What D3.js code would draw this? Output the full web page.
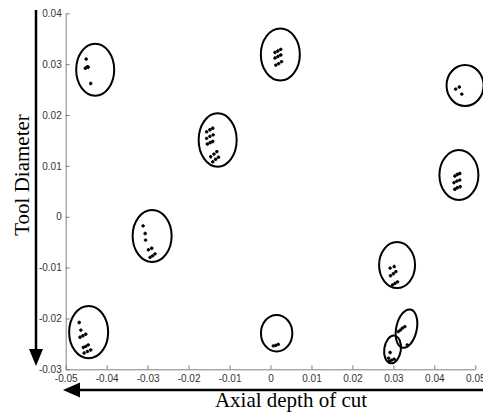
<!DOCTYPE html>
<html>
<head>
<meta charset="utf-8">
<script src="https://cdn.jsdelivr.net/npm/d3@7/dist/d3.min.js"></script>
<style>
  body { margin: 0; background: #fff; }
  .axis text { font-family: "Liberation Sans", Arial, sans-serif; font-size: 10px; fill: #333; }
  .axis path, .axis line { stroke: #808080; }
  .label { font-family: "Liberation Serif", "Times New Roman", serif; font-size: 21px; fill: #000; }
</style>
</head>
<body>
<div class="chart"></div>
<script>
// tick values
var xTicks = [-0.05, -0.04, -0.03, -0.02, -0.01, 0, 0.01, 0.02, 0.03, 0.04, 0.05];
var yTicks = [-0.03, -0.02, -0.01, 0, 0.01, 0.02, 0.03, 0.04];

// ellipse around each group: centre, half-width, half-height (data units), tilt (deg)
var ellipseCx = [-0.0428, 0.0024, 0.0475, -0.0129, 0.0460, -0.0289, 0.0309, -0.0444, 0.0015, 0.0332, 0.0298];
var ellipseCy = [0.0289, 0.0319, 0.0258, 0.0151, 0.0082, -0.0038, -0.0095, -0.0227, -0.0229, -0.0220, -0.0261];
var ellipseRx = [0.00464, 0.00476, 0.00452, 0.00464, 0.00476, 0.00476, 0.00439, 0.00476, 0.00383, 0.00251, 0.00203];
var ellipseRy = [0.00511, 0.00511, 0.00403, 0.00525, 0.00492, 0.00511, 0.00452, 0.00515, 0.00360, 0.00383, 0.00275];
var ellipseTilt = [0, 0, 0, 0, 0, 0, 0, 0, 0, 12, 8];

// measured points of each group [x, y]
var groupPoints = [
  [[-0.0450, 0.0310], [-0.0447, 0.0295], [-0.0452, 0.0292], [-0.0445, 0.0294], [-0.0439, 0.0262]],
  [[0.0011, 0.0323], [0.0018, 0.0326], [0.0025, 0.0329], [0.0011, 0.0312], [0.0018, 0.0315], [0.0025, 0.0318],
   [0.0013, 0.0298], [0.0020, 0.0301], [0.0027, 0.0305]],
  [[0.0452, 0.0251], [0.0461, 0.0255], [0.0467, 0.0241]],
  [[-0.0156, 0.0167], [-0.0148, 0.0171], [-0.0141, 0.0174], [-0.0156, 0.0154], [-0.0148, 0.0158], [-0.0140, 0.0161],
   [-0.0154, 0.0143], [-0.0147, 0.0146], [-0.0141, 0.0148], [-0.0146, 0.0118], [-0.0138, 0.0123], [-0.0131, 0.0128],
   [-0.0141, 0.0108], [-0.0134, 0.0113], [-0.0127, 0.0117]],
  [[0.0450, 0.0080], [0.0456, 0.0083], [0.0462, 0.0085], [0.0448, 0.0067], [0.0455, 0.0070], [0.0462, 0.0072],
   [0.0450, 0.0054], [0.0456, 0.0057], [0.0463, 0.0059]],
  [[-0.0311, -0.0018], [-0.0306, -0.0033], [-0.0305, -0.0046], [-0.0298, -0.0065], [-0.0290, -0.0062],
   [-0.0294, -0.0080], [-0.0288, -0.0077], [-0.0282, -0.0073]],
  [[0.0292, -0.0101], [0.0302, -0.0098], [0.0293, -0.0116], [0.0300, -0.0112], [0.0306, -0.0108],
   [0.0298, -0.0134], [0.0304, -0.0131], [0.0310, -0.0128]],
  [[-0.0467, -0.0208], [-0.0463, -0.0223], [-0.0465, -0.0237], [-0.0458, -0.0234], [-0.0451, -0.0231],
   [-0.0457, -0.0257], [-0.0451, -0.0255], [-0.0445, -0.0252], [-0.0455, -0.0268], [-0.0447, -0.0265], [-0.0439, -0.0262]],
  [[0.0007, -0.0254], [0.0013, -0.0253], [0.0019, -0.0251]],
  [[0.0312, -0.0226], [0.0317, -0.0223], [0.0322, -0.0219], [0.0328, -0.0216], [0.0334, -0.0252]],
  [[0.0292, -0.0267], [0.0288, -0.0278], [0.0290, -0.0284], [0.0296, -0.0282], [0.0302, -0.0280]]
];

var W = 483, H = 414;
var margin = { top: 13.3, left: 65.7, right: 7.7, bottom: 44.7 };
var width = W - margin.left - margin.right;
var height = H - margin.top - margin.bottom;

var svg = d3.select('.chart').
  append('svg').
  attr('width', W).
  attr('height', H);

var g = svg.append('g').
  attr('transform', 'translate(' + margin.left + ',' + margin.top + ')');

var x = d3.scaleLinear().domain([-0.05, 0.05]).range([0, width]);
var y = d3.scaleLinear().domain([-0.03, 0.04]).range([height, 0]);

// plain hyphen, "0" for zero
function fmt(d) {
  return Math.abs(d) < 1e-9 ? '0' : d.toFixed(2);
}

g.append('g').
  attr('class', 'axis').
  attr('transform', 'translate(0,' + height + ')').
  call(d3.axisBottom(x).tickValues(xTicks).tickFormat(fmt).tickSizeInner(-4).tickSizeOuter(0).tickPadding(6));

g.append('g').
  attr('class', 'axis').
  call(d3.axisLeft(y).tickValues(yTicks).tickFormat(fmt).tickSizeInner(-4).tickSizeOuter(0).tickPadding(4));

// ellipses
var ell = ellipseCx.map(function(cx, i) {
  return { cx: cx, cy: ellipseCy[i], rx: ellipseRx[i], ry: ellipseRy[i], tilt: ellipseTilt[i] };
});

g.selectAll('.ell').
  data(ell).
  enter().append('ellipse').
  attr('class', 'ell').
  attr('transform', function(d) {
    return 'translate(' + x(d.cx) + ',' + y(d.cy) + ') rotate(' + d.tilt + ')';
  }).
  attr('rx', function(d) { return x(d.rx) - x(0); }).
  attr('ry', function(d) { return y(0) - y(d.ry); }).
  attr('fill', 'none').
  attr('stroke', '#000').
  attr('stroke-width', 2);

// points as small plus markers
var pts = [];
groupPoints.forEach(function(arr) {
  arr.forEach(function(p) { pts.push(p); });
});

g.selectAll('.pt').
  data(pts).
  enter().append('path').
  attr('class', 'pt').
  attr('d', function(d) {
    var px = x(d[0]), py = y(d[1]), s = 1.7;
    return 'M' + (px - s) + ',' + py + 'H' + (px + s) + 'M' + px + ',' + (py - s) + 'V' + (py + s);
  }).
  attr('stroke', '#000').
  attr('stroke-width', 1.8);

// vertical arrow with label
var ax = 36;
svg.append('line').
  attr('x1', ax).attr('x2', ax).
  attr('y1', 10).attr('y2', 351).
  attr('stroke', '#000').attr('stroke-width', 2.5);
svg.append('path').
  attr('d', 'M' + (ax - 7) + ',349L' + (ax + 7) + ',349L' + ax + ',366Z').
  attr('fill', '#000');

svg.append('text').
  attr('class', 'label').
  attr('text-anchor', 'middle').
  attr('transform', 'translate(29,175) rotate(-90)').
  text('Tool Diameter');

// horizontal arrow with label
var ay = 390;
svg.append('line').
  attr('x1', 78).attr('x2', W).
  attr('y1', ay).attr('y2', ay).
  attr('stroke', '#000').attr('stroke-width', 2.5);
svg.append('path').
  attr('d', 'M80,' + (ay - 7.5) + 'L80,' + (ay + 7.5) + 'L63,' + ay + 'Z').
  attr('fill', '#000');

svg.append('text').
  attr('class', 'label').
  attr('text-anchor', 'middle').
  attr('x', 291).
  attr('y', 407).
  text('Axial depth of cut');
</script>
</body>
</html>
